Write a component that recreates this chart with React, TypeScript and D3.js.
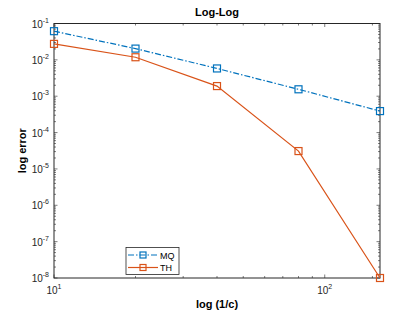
import React, { useEffect, useRef } from "react";
import * as d3 from "d3";

// data
const xValues = [10, 20, 40, 80, 160];
const mqErrors = [0.0615, 0.0204, 0.0058, 0.00155, 0.00039];
const thErrors = [0.0275, 0.0118, 0.0019, 0.000031, 1.0e-8];
const seriesNames = ["MQ", "TH"];
const yTickExps = [-1, -2, -3, -4, -5, -6, -7, -8];
const xTickExps = [1, 2];

function App() {
    const svgRef = useRef<SVGSVGElement>(null);

    useEffect(() => {
        const width = 420;
        const height = 315;
        const marginLeft = 54;
        const marginTop = 23.5;
        const marginRight = 40;
        const marginBottom = 37;
        const axisColor = "#262626";
        const font = "Liberation Sans, Arial, sans-serif";

        const svg = d3.select(svgRef.current)
            .attr("width", width)
            .attr("height", height);

        svg.selectAll("*").remove();

        const xScale = d3.scaleLog()
            .domain([10, 160])
            .range([marginLeft, width - marginRight]);

        const yScale = d3.scaleLog()
            .domain([1e-8, 1e-1])
            .range([height - marginBottom, marginTop]);

        const [x0, x1] = xScale.range();
        const [y0, y1] = yScale.range();

        svg.append("rect")
            .attr("x", 0).attr("y", 0)
            .attr("width", width).attr("height", height)
            .attr("fill", "white");

        // box
        svg.append("rect")
            .attr("x", x0).attr("y", y1)
            .attr("width", x1 - x0).attr("height", y0 - y1)
            .attr("fill", "white")
            .attr("stroke", axisColor)
            .attr("stroke-width", 1);

        const ticks = svg.append("g").attr("stroke", axisColor).attr("stroke-width", 0.6);

        // y ticks, major + minor, left & right
        for (let e = -8; e <= -1; e++) {
            for (let m = 1; m <= 9; m++) {
                const v = m * Math.pow(10, e);
                if (v > 0.1 + 1e-12) continue;
                const y = yScale(v);
                const len = m === 1 ? 3.5 : 2;
                ticks.append("line").attr("x1", x0).attr("x2", x0 + len).attr("y1", y).attr("y2", y);
                ticks.append("line").attr("x1", x1).attr("x2", x1 - len).attr("y1", y).attr("y2", y);
            }
        }

        // x ticks
        const xMinor = [10, 20, 30, 40, 50, 60, 70, 80, 90, 100, 150];
        xMinor.forEach(v => {
            const x = xScale(v);
            const len = v === 10 || v === 100 ? 3.5 : 2;
            ticks.append("line").attr("x1", x).attr("x2", x).attr("y1", y0).attr("y2", y0 - len);
            ticks.append("line").attr("x1", x).attr("x2", x).attr("y1", y1).attr("y2", y1 + len);
        });

        // y tick labels
        yTickExps.forEach(e => {
            const t = svg.append("text")
                .attr("x", x0 - 5)
                .attr("y", yScale(Math.pow(10, e)) + 4)
                .attr("text-anchor", "end")
                .attr("font-family", font)
                .attr("font-size", 10)
                .attr("fill", axisColor);
            t.append("tspan").text("10");
            t.append("tspan").attr("dy", -5).attr("font-size", 7).text(`${e}`);
        });

        // x tick labels
        xTickExps.forEach(e => {
            const t = svg.append("text")
                .attr("x", xScale(Math.pow(10, e)))
                .attr("y", y0 + 16)
                .attr("text-anchor", "middle")
                .attr("font-family", font)
                .attr("font-size", 10)
                .attr("fill", axisColor);
            t.append("tspan").text("10");
            t.append("tspan").attr("dy", -5).attr("font-size", 7).text(`${e}`);
        });

        // title + labels
        svg.append("text")
            .attr("x", (x0 + x1) / 2)
            .attr("y", 16)
            .attr("text-anchor", "middle")
            .attr("font-family", font)
            .attr("font-weight", "bold")
            .attr("font-size", 11)
            .attr("fill", "black")
            .text("Log-Log");

        svg.append("text")
            .attr("x", (x0 + x1) / 2)
            .attr("y", 308)
            .attr("text-anchor", "middle")
            .attr("font-family", font)
            .attr("font-weight", "bold")
            .attr("font-size", 11)
            .attr("fill", "black")
            .text("log (1/c)");

        svg.append("text")
            .attr("transform", `translate(26,${(y0 + y1) / 2}) rotate(-90)`)
            .attr("text-anchor", "middle")
            .attr("font-family", font)
            .attr("font-weight", "bold")
            .attr("font-size", 11)
            .attr("fill", "black")
            .text("log error");

        const colors = ["#0072BD", "#D95319"];
        const dashes = ["6,2,1.5,2", null];
        const allSeries = [mqErrors, thErrors];

        const line = d3.line<number>()
            .x((d, i) => xScale(xValues[i]))
            .y(d => yScale(d));

        allSeries.forEach((s, k) => {
            svg.append("path")
                .datum(s)
                .attr("d", line)
                .attr("fill", "none")
                .attr("stroke", colors[k])
                .attr("stroke-width", 1.2)
                .attr("stroke-dasharray", dashes[k]);

            svg.append("g").selectAll("rect")
                .data(s)
                .enter()
                .append("rect")
                .attr("x", (d, i) => xScale(xValues[i]) - 3.5)
                .attr("y", d => yScale(d) - 3.5)
                .attr("width", 7)
                .attr("height", 7)
                .attr("fill", "none")
                .attr("stroke", colors[k])
                .attr("stroke-width", 1.2);
        });

        // legend
        const lg = svg.append("g");
        lg.append("rect")
            .attr("x", 126).attr("y", 247.5)
            .attr("width", 53).attr("height", 27)
            .attr("fill", "white")
            .attr("stroke", axisColor)
            .attr("stroke-width", 0.8);
        seriesNames.forEach((name, k) => {
            const y = 255 + k * 12.5;
            lg.append("line")
                .attr("x1", 128).attr("x2", 158)
                .attr("y1", y).attr("y2", y)
                .attr("stroke", colors[k])
                .attr("stroke-width", 1.2)
                .attr("stroke-dasharray", dashes[k]);
            lg.append("rect")
                .attr("x", 143 - 3).attr("y", y - 3)
                .attr("width", 6).attr("height", 6)
                .attr("fill", "none")
                .attr("stroke", colors[k])
                .attr("stroke-width", 1.2);
            lg.append("text")
                .attr("x", 160).attr("y", y + 3.5)
                .attr("font-family", font)
                .attr("font-size", 9)
                .attr("fill", "black")
                .text(name);
        });
    }, []);

    return <svg ref={svgRef} style={{ position: "absolute", left: 0, top: 0 }}></svg>;
}

export default App;
